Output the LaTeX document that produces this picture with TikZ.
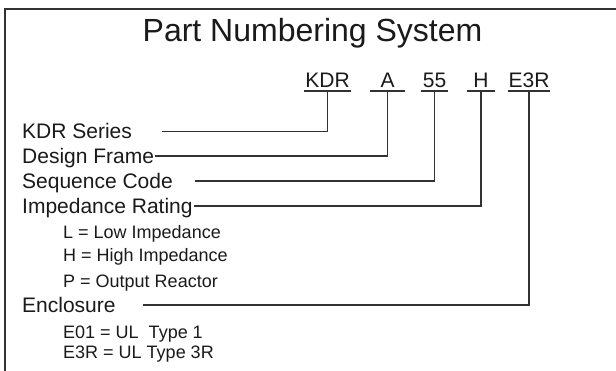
\documentclass[tikz,border=0pt]{standalone}
\usepackage{fontspec}
\setmainfont{Liberation Sans}
\usepackage{xcolor}
\usepackage{tikz}
\usetikzlibrary{positioning}
\definecolor{ink}{RGB}{26,26,26}
\definecolor{rule}{RGB}{50,50,50}

\tikzset{
    lbl/.style={anchor=west, inner sep=0pt, text height=15pt, text depth=0pt, text=ink, font=\fontsize{21}{25}\selectfont},
    sublbl/.style={anchor=west, inner sep=0pt, text height=13pt, text depth=0pt, text=ink, font=\fontsize{18}{22}\selectfont},
    code/.style={anchor=south, inner xsep=0pt, inner ysep=3pt, text height=15pt, text depth=0pt, text=ink, font=\fontsize{21}{25}\selectfont},
    link/.style={draw=rule, line width=1.2pt},
    frame/.style={draw=rule, line width=2pt}
}

\begin{document}
\begin{tikzpicture}[x=1pt, y=-1pt]
    \useasboundingbox (0,0) rectangle (616,371);
    \clip (0,0) rectangle (616,371);
    \fill[white] (0,0) rectangle (616,371);
    % outer frame (runs off the right and bottom)
    \draw[frame] (5,380) -- (5,9) -- (625,9);

    \node[inner sep=0pt, text height=22.5pt, text depth=0pt, text=ink, font=\fontsize{32}{36}\selectfont] (title) at (312.5,30.5) {Part Numbering System};

    % the part number fields
    \node[code, minimum width=47pt] (fkdr) at (327.5,91) {KDR};
    \node[code, minimum width=35pt] (fa) at (387.5,91) {A};
    \node[code, minimum width=26pt] (f55) at (434.5,91) {55};
    \node[code, minimum width=28pt] (fh) at (481,91) {H};
    \node[code, minimum width=34pt] (fe3r) at (529,91) {E3R};
    \foreach \f in {fkdr, fa, f55, fh, fe3r}
        \draw[link] (\f.south west) -- (\f.south east);

    % what each field means
    \node[lbl] (series) at (22,131.5) {KDR Series};
    \node[lbl] (frm) at (22,156) {Design Frame};
    \node[lbl] (seq) at (22,181) {Sequence Code};
    \node[lbl] (imp) at (22,206) {Impedance Rating};
    \node[sublbl] (implow) at (63,232) {L = Low Impedance};
    \node[sublbl] (imphigh) at (63,255) {H = High Impedance};
    \node[sublbl] (impout) at (63,281) {P = Output Reactor};
    \node[lbl] (encl) at (22,305) {Enclosure};
    \node[sublbl] (encone) at (63,331.5) {E01 = UL\ \ Type 1};
    \node[sublbl] (encthree) at (63,352) {E3R = UL Type 3R};

    \draw[link] (fkdr.south) |- ([xshift=30pt]series.east);
    \draw[link] (fa.south) |- ([xshift=1pt]frm.east);
    \draw[link] (f55.south) |- ([xshift=22pt]seq.east);
    \draw[link] (fh.south) |- ([xshift=1pt]imp.east);
    \draw[link] (fe3r.south) |- ([xshift=27pt]encl.east);
\end{tikzpicture}
\end{document}
